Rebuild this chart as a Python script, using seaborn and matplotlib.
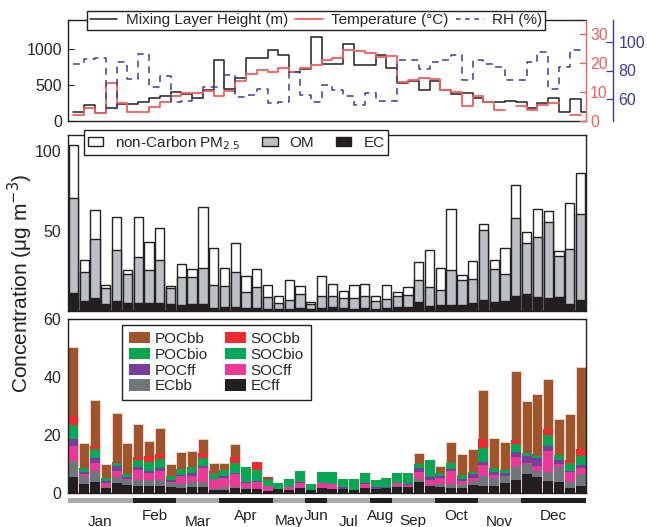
import numpy as np
import pandas as pd
import matplotlib
matplotlib.use("Agg")
import matplotlib.pyplot as plt
import seaborn as sns
from matplotlib.patches import Patch
from matplotlib.lines import Line2D
from matplotlib.transforms import blended_transform_factory

# ---------------- data ----------------
months = ["Jan", "Feb", "Mar", "Apr", "May", "Jun",
          "Jul", "Aug", "Sep", "Oct", "Nov", "Dec"]
samples_per_month = [6, 4, 4, 5, 3, 2, 4, 2, 4, 4, 4, 6]

# top panel (one value per sample)
mlh = [128, 220, 106, 180, 240, 240, 266, 321, 344, 404, 381, 321, 427, 840, 450, 597,
       872, 872, 978, 918, 679, 725, 1161, 794, 794, 1069, 780, 780, 918, 734, 532, 551,
       427, 551, 427, 381, 395, 312, 257, 257, 275, 266, 184, 243, 312, 119, 303, 119]
temp = [2.1, 4.6, 2.6, 13.0, 6.1, 3.0, 3.0, 4.9, 6.7, 8.6, 9.8, 9.8, 10.3, 8.6, 10.3, 13.8,
        16.4, 17.8, 17.0, 18.4, 17.0, 18.2, 19.3, 21.0, 22.0, 24.5, 24.2, 23.6, 22.2, 22.4, 13.5, 14.2,
        14.9, 14.5, 10.7, 10.1, 5.2, 8.5, 6.5, 3.9, np.nan, 5.3, 3.8, 5.5, 6.4, np.nan, 2.1, np.nan]
rh = [84.2, 88.1, 88.8, 53.8, 85.8, 74.4, 91.5, 68.7, 76.0, 58.0, 58.9, 61.1, 68.7, 68.7, 77.1, 61.8,
      63.0, 66.9, 57.3, 58.0, 79.0, 63.0, 58.4, 70.0, 66.6, 62.6, 56.3, 64.1, 58.9, 58.9, 87.0, 87.0,
      80.8, 85.8, 87.5, 90.9, 73.7, 87.0, 84.7, 82.4, 73.3, 73.3, 85.8, 92.7, 66.9, 82.4, 94.3, 94.0]

# middle panel (stack segments, ug m-3)
ec = [11.5, 6.3, 8.3, 4.2, 6.3, 5.2, 5.2, 5.2, 5.2, 4.2, 3.5, 4.2, 4.2, 2.1, 2.5, 2.5,
      2.1, 2.1, 1.5, 1.5, 1.5, 2.1, 1.5, 2.1, 2.5, 2.1, 1.0, 2.1, 1.5, 2.1, 2.5, 2.7,
      5.6, 3.1, 3.5, 3.7, 3.5, 4.8, 6.7, 5.6, 6.3, 9.4, 10.4, 8.8, 8.3, 9.0, 4.2, 6.9]
om = [59.3, 18.3, 36.5, 10.4, 31.6, 18.1, 28.8, 20.4, 26.5, 10.4, 17.8, 17.1, 22.5, 14.2, 13.1, 22.1,
      9.8, 13.1, 7.3, 3.7, 5.2, 8.3, 2.7, 7.3, 6.9, 5.8, 6.9, 7.3, 4.8, 5.6, 6.9, 7.1,
      13.6, 11.9, 9.6, 21.9, 15.7, 15.0, 43.7, 20.4, 17.0, 48.5, 31.9, 37.5, 47.5, 25.4, 34.3, 53.9]
non_carbon = [33.0, 7.1, 18.5, 1.7, 21.1, 2.3, 25.0, 17.5, 20.4, 1.0, 7.9, 4.7, 38.5, 23.3, 11.1, 18.1,
              10.0, 10.8, 7.5, 4.2, 12.7, 5.2, 1.4, 12.5, 7.7, 4.6, 8.1, 7.3, 3.1, 8.6, 2.7, 5.4,
              11.4, 23.1, 14.0, 37.9, 3.3, 11.4, 3.8, 5.7, 16.3, 20.9, 7.3, 17.2, 6.7, 3.1, 29.0, 25.7]

# bottom panel (source apportionment, ug m-3)
ec_ff = [5.6, 3.2, 3.9, 1.6, 3.6, 2.8, 2.4, 2.4, 2.4, 2.2, 1.6, 2.2, 2.2, 0.9, 1.0, 1.6,
         1.4, 1.4, 0.8, 1.4, 1.0, 1.6, 1.0, 1.6, 1.4, 1.4, 1.0, 1.6, 1.4, 1.6, 2.0, 2.2,
         3.7, 2.5, 2.0, 1.6, 1.6, 2.8, 2.5, 2.5, 3.3, 4.5, 6.4, 5.6, 4.1, 3.7, 1.6, 2.4]
ec_bb = [5.4, 2.5, 3.7, 0.6, 1.8, 1.7, 2.1, 2.1, 2.1, 1.1, 1.4, 1.7, 1.7, 0.5, 0.9, 0.6,
         0.2, 0.0, 0.0, 0.0, 0.0, 0.0, 0.0, 0.0, 0.0, 0.0, 0.0, 0.0, 0.0, 0.0, 0.4, 0.0,
         1.1, 0.2, 1.1, 1.5, 1.5, 1.4, 3.4, 2.8, 2.6, 4.4, 3.6, 2.0, 3.2, 5.1, 2.1, 4.0]
soc_ff = [5.3, 1.0, 2.9, 1.4, 2.3, 0.3, 3.4, 2.3, 3.1, 0.6, 3.0, 2.1, 4.6, 3.4, 3.4, 4.3,
          1.7, 2.5, 1.7, 0.0, 1.1, 1.7, 0.0, 1.7, 1.7, 0.0, 0.0, 1.5, 0.0, 0.0, 1.2, 0.4,
          2.3, 1.7, 2.0, 4.4, 1.0, 1.1, 3.7, 0.9, 0.0, 3.4, 0.3, 1.8, 7.1, 1.3, 3.4, 2.3]
poc_ff = [2.2, 0.7, 1.7, 0.5, 1.6, 0.8, 0.9, 0.9, 0.9, 0.6, 0.3, 0.8, 0.9, 0.2, 0.6, 0.3,
          0.5, 0.2, 0.0, 0.0, 0.1, 0.4, 0.0, 0.1, 0.1, 0.5, 0.0, 0.5, 0.6, 0.6, 0.0, 0.5,
          1.4, 1.1, 0.6, 0.8, 0.7, 1.1, 1.1, 0.9, 1.1, 2.0, 2.5, 2.8, 1.7, 1.4, 0.6, 0.9]
soc_bio = [2.6, 0.7, 1.6, 0.7, 0.6, 0.5, 1.4, 1.7, 1.7, 0.8, 1.1, 1.1, 1.5, 1.1, 1.2, 1.9,
           2.9, 2.0, 1.2, 1.2, 1.4, 2.1, 1.1, 2.0, 2.1, 1.6, 2.0, 1.7, 1.4, 1.6, 1.7, 2.0,
           0.8, 3.2, 0.6, 1.1, 0.8, 0.4, 2.6, 0.9, 0.4, 1.4, 0.6, 0.5, 2.0, 0.9, 1.4, 1.7]
poc_bio = [2.3, 0.5, 1.3, 0.5, 0.4, 0.4, 1.1, 1.4, 1.4, 0.7, 0.9, 0.9, 1.3, 0.9, 1.0, 1.5,
           2.4, 1.7, 1.0, 1.0, 1.2, 1.8, 1.0, 1.7, 1.8, 1.3, 1.8, 1.5, 1.1, 1.3, 1.5, 1.7,
           0.7, 2.7, 0.5, 0.9, 0.6, 0.3, 2.2, 0.7, 0.4, 1.2, 0.5, 0.4, 1.8, 0.8, 1.1, 1.5]
soc_bb = [3.2, 0.0, 1.1, 0.0, 0.5, 0.0, 1.1, 2.0, 1.8, 0.0, 0.0, 0.0, 1.5, 0.5, 0.0, 2.3,
          0.0, 2.9, 0.9, 0.0, 0.0, 0.0, 0.0, 0.0, 0.0, 0.0, 0.0, 0.0, 0.0, 0.0, 0.0, 0.0,
          0.0, 0.0, 0.0, 0.0, 0.0, 0.0, 3.2, 0.0, 0.0, 1.4, 0.0, 0.3, 2.1, 0.0, 1.1, 2.3]
poc_bb = [23.6, 8.8, 16.0, 4.6, 16.7, 10.9, 11.3, 5.2, 8.9, 3.9, 5.7, 5.7, 4.8, 2.7, 2.1, 4.3,
          0.0, 0.0, 0.0, 0.0, 0.0, 0.0, 0.0, 0.0, 0.0, 0.0, 0.0, 0.0, 0.0, 0.0, 0.0, 0.0,
          3.7, 0.0, 2.5, 7.2, 7.1, 8.0, 16.8, 10.2, 9.9, 23.9, 17.8, 20.6, 17.3, 12.3, 15.8, 28.2]

# ---------------- style ----------------
sns.set_theme(style="ticks")
plt.rcParams['font.family'] = ['Liberation Sans', 'DejaVu Sans']
plt.rcParams['axes.edgecolor'] = '#231F20'
plt.rcParams['axes.linewidth'] = 1.0

W_PX, H_PX = 647, 527
fig = plt.figure(figsize=(W_PX / 100, H_PX / 100), dpi=100)

def rect(x0, y0, x1, y1):
    return [x0 / W_PX, 1 - y1 / H_PX, (x1 - x0) / W_PX, (y1 - y0) / H_PX]

ax1 = fig.add_axes(rect(68, 20, 586, 121))
ax2 = fig.add_axes(rect(68, 135, 586, 311))
ax3 = fig.add_axes(rect(68, 319, 586, 493))
axm = fig.add_axes(rect(68, 498, 586, 503))

n = len(mlh)
xlim = (-0.5, n - 0.5)
TICK_FS = 11.5
LEG_FS = 11

BLACK = '#231F20'
RED = '#F0605D'
BLUE = '#3A3C9C'

# ---------------- top panel ----------------
x_step = np.arange(n + 1)
ax1.plot(x_step, mlh + [mlh[-1]], drawstyle='steps-post', color=BLACK, lw=1.1)
ax1.set_xlim(*xlim)
ax1.set_ylim(0, 1400)
ax1.set_yticks([0, 500, 1000])
ax1.set_xticks([])
ax1.tick_params(axis='y', direction='in', length=4, width=0.8, left=True, right=True,
                labelsize=TICK_FS, pad=4, color=BLACK)
ax1.spines['right'].set_visible(False)

ax_t = ax1.twinx()
ax_t.plot(x_step, temp + [temp[-1]], drawstyle='steps-post', color=RED, lw=1.3)
ax_t.set_xlim(*xlim)
ax_t.set_ylim(0, 35)
ax_t.set_yticks([0, 10, 20, 30])
ax_t.tick_params(axis='y', direction='in', length=5, width=0.9, color=RED,
                 labelcolor=RED, labelsize=TICK_FS, pad=3)
for s in ['left', 'top', 'bottom']:
    ax_t.spines[s].set_visible(False)
ax_t.spines['right'].set_color(RED)

ax_rh = ax1.twinx()
ax_rh.plot(x_step, rh + [rh[-1]], drawstyle='steps-post', color=BLUE, lw=1.1,
           linestyle=(0, (4.5, 3.5)))
ax_rh.set_xlim(*xlim)
ax_rh.set_ylim(45, 115)
ax_rh.set_yticks([60, 80, 100])
ax_rh.spines['right'].set_position(('axes', 1 + 27 / 518))
ax_rh.tick_params(axis='y', direction='in', length=5, width=0.9, color=BLUE,
                  labelcolor=BLUE, labelsize=TICK_FS, pad=4)
for s in ['left', 'top', 'bottom']:
    ax_rh.spines[s].set_visible(False)
ax_rh.spines['right'].set_color(BLUE)

top_handles = [Line2D([], [], color=BLACK, lw=1.1),
               Line2D([], [], color=RED, lw=1.3),
               Line2D([], [], color=BLUE, lw=1.1, linestyle=(0, (3, 3)))]
leg1 = fig.legend(top_handles, ["Mixing Layer Height (m)", "Temperature (°C)", "RH (%)"],
                  loc='upper center', bbox_to_anchor=(316 / W_PX, 1 - 11 / H_PX), ncol=3,
                  fontsize=LEG_FS, frameon=True, fancybox=False, framealpha=1,
                  edgecolor=BLACK, borderpad=0.15, handlelength=1.8, handletextpad=0.55,
                  columnspacing=0.5, borderaxespad=0)
leg1.get_frame().set_linewidth(1.0)

# ---------------- stacked bar helper (seaborn) ----------------
def stacked(ax, layers, colors, edgecolor, lw, width, inner_edges=True):
    df = pd.DataFrame(layers)
    cum = df.cumsum(axis=1)
    df_pos = pd.DataFrame({'sample': np.arange(n)})
    names = list(df.columns)
    for name in reversed(names):
        is_top = name == names[-1]
        this_lw = lw if (inner_edges or is_top) else 0
        sns.barplot(x=df_pos['sample'], y=cum[name], color=colors[name], saturation=1,
                    width=width, edgecolor=edgecolor, linewidth=this_lw, errorbar=None,
                    ax=ax, zorder=2)
    ax.set_xlabel('')
    ax.set_ylabel('')
    ax.set_xticks([])
    ax.set_xlim(*xlim)

# ---------------- middle panel ----------------
mid_layers = {'EC': ec, 'OM': om, 'nonC': non_carbon}
mid_colors = {'EC': BLACK, 'OM': '#BCC0C5', 'nonC': 'white'}
stacked(ax2, mid_layers, mid_colors, BLACK, 1.0, 0.86)
ax2.set_ylim(0, 110)
ax2.set_yticks([50, 100])
ax2.tick_params(axis='y', direction='in', length=0, labelsize=TICK_FS, pad=5)

mid_handles = [Patch(facecolor='white', edgecolor=BLACK, lw=1.0),
               Patch(facecolor='#BCC0C5', edgecolor=BLACK, lw=1.0),
               Patch(facecolor=BLACK, edgecolor=BLACK, lw=1.0)]
leg2 = fig.legend(mid_handles, ["non-Carbon PM$_{2.5}$", "OM", "EC"],
                  loc='upper center', bbox_to_anchor=(236 / W_PX, 1 - 130 / H_PX), ncol=3,
                  fontsize=LEG_FS, frameon=True, fancybox=False, framealpha=1,
                  edgecolor=BLACK, borderpad=0.25, handlelength=1.0, handleheight=0.6,
                  handletextpad=0.8, columnspacing=1.4, borderaxespad=0)
leg2.get_frame().set_linewidth(1.0)

# ---------------- bottom panel ----------------
bot_layers = {'ECff': ec_ff, 'ECbb': ec_bb, 'SOCff': soc_ff, 'POCff': poc_ff,
              'SOCbio': soc_bio, 'POCbio': poc_bio, 'SOCbb': soc_bb, 'POCbb': poc_bb}
bot_colors = {'POCbb': '#A0542B', 'SOCbb': '#EC2B30', 'POCbio': '#0AA64E',
              'SOCbio': '#00A859', 'POCff': '#773D98', 'SOCff': '#EC3997',
              'ECbb': '#6E777C', 'ECff': BLACK}
stacked(ax3, bot_layers, bot_colors, '#F0DCD0', 0.6, 0.93, inner_edges=False)
ax3.set_ylim(0, 60)
ax3.set_yticks([0, 20, 40, 60])
ax3.tick_params(axis='y', direction='in', length=4, width=0.8, left=True, right=True,
                labelsize=TICK_FS, pad=5)

legend_order = ['POCbb', 'POCbio', 'POCff', 'ECbb', 'SOCbb', 'SOCbio', 'SOCff', 'ECff']
bot_handles = [Patch(facecolor=bot_colors[k], edgecolor='none') for k in legend_order]
leg3 = fig.legend(bot_handles, legend_order, loc='upper left',
                  bbox_to_anchor=(122 / W_PX, 1 - 325 / H_PX), ncol=2,
                  fontsize=LEG_FS, frameon=True, fancybox=False, framealpha=1,
                  edgecolor=BLACK, borderpad=0.45, handlelength=1.4, handleheight=0.75,
                  handletextpad=0.3, labelspacing=0.12, columnspacing=1.1, borderaxespad=0)
leg3.get_frame().set_linewidth(1.0)

fig.text(20 / W_PX, 1 - 283 / H_PX, "Concentration (μg m$^{-3}$)", rotation=90,
         ha='center', va='center', fontsize=15, color=BLACK)

# ---------------- month strip ----------------
starts = np.cumsum([0] + samples_per_month[:-1])
strip_colors = ['#A7A9AC', BLACK]
trans = blended_transform_factory(axm.transData, fig.transFigure)
for i, (m, s, c) in enumerate(zip(months, starts, samples_per_month)):
    axm.barh(0.5, c, left=s - 0.5, height=1.0, color=strip_colors[i % 2], edgecolor='none')
    ybase = 1 - (525.5 if i % 2 == 0 else 520) / H_PX
    axm.text(s - 0.5 + c / 2, ybase, m, transform=trans, ha='center', va='baseline',
             fontsize=11, color=BLACK)
axm.set_xlim(*xlim)
axm.set_ylim(0, 1)
axm.axis('off')

fig.savefig("out.png", dpi=100)
